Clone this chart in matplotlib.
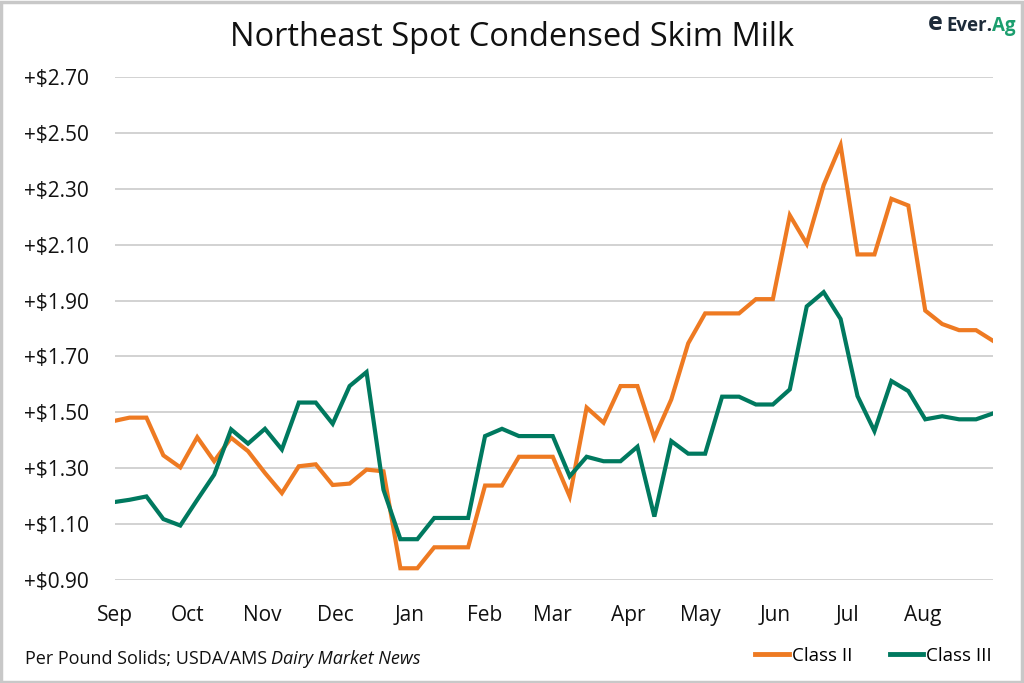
import pandas as pd
import numpy as np
import matplotlib
matplotlib.use("Agg")
from matplotlib import pyplot as plt
import matplotlib.dates as mdates
from matplotlib.patches import Rectangle

# weekly spot premiums ($/lb solids), Sep 2022 - Aug 2023
weeks = pd.date_range("2022-08-31", periods=53, freq="7D")

class_ii = [1.468, 1.481, 1.481, 1.346, 1.303, 1.411, 1.325, 1.409, 1.361, 1.283,
            1.211, 1.307, 1.314, 1.240, 1.245, 1.295, 1.289, 0.942, 0.942, 1.017,
            1.017, 1.017, 1.238, 1.238, 1.341, 1.341, 1.341, 1.199, 1.517, 1.463,
            1.594, 1.594, 1.409, 1.546, 1.747, 1.854, 1.854, 1.854, 1.905, 1.905,
            2.205, 2.103, 2.313, 2.456, 2.065, 2.065, 2.264, 2.240, 1.864, 1.816,
            1.794, 1.794, 1.756]

class_iii = [1.178, 1.187, 1.199, 1.118, 1.095, 1.187, 1.277, 1.439, 1.388, 1.441,
             1.367, 1.535, 1.535, 1.459, 1.594, 1.644, 1.223, 1.046, 1.046, 1.122,
             1.122, 1.122, 1.415, 1.441, 1.415, 1.415, 1.415, 1.271, 1.341, 1.325,
             1.325, 1.377, 1.127, 1.397, 1.352, 1.352, 1.556, 1.556, 1.528, 1.528,
             1.582, 1.879, 1.930, 1.834, 1.558, 1.433, 1.612, 1.576, 1.475, 1.486,
             1.475, 1.475, 1.496]

y_ticks = [0.90, 1.10, 1.30, 1.50, 1.70, 1.90, 2.10, 2.30, 2.50, 2.70]

orange = "#EE7A22"
green = "#00795F"

plt.rcParams['font.family'] = ['Open Sans', 'DejaVu Sans']

fig = plt.figure(figsize=(10.24, 6.83), dpi=100)
ax = fig.add_axes([0.1123, 0.1508, 0.8574, 0.7365])

ax.plot(weeks, class_ii, color=orange, lw=3, label="Class II", solid_joinstyle="miter")
ax.plot(weeks, class_iii, color=green, lw=3, label="Class III", solid_joinstyle="miter")

ax.set_ylim(0.90, 2.70)
ax.set_yticks(y_ticks)
ax.set_yticklabels([f"+${v:.2f}" for v in y_ticks])
ax.set_xlim(pd.Timestamp("2022-09-01"), weeks[-1])
ax.xaxis.set_major_locator(mdates.MonthLocator())
ax.xaxis.set_major_formatter(mdates.DateFormatter("%b"))

ax.grid(axis="y", color="#CFCFCF", lw=1.3)
ax.set_axisbelow(True)
for s in ax.spines.values():
    s.set_visible(False)
ax.tick_params(axis="both", length=0, labelsize=15, colors="#111111")
ax.tick_params(axis="y", pad=19)
ax.tick_params(axis="x", pad=18)

fig.text(0.5, 0.945, "Northeast Spot Condensed Skim Milk", ha="center", va="center",
         fontsize=23.5, color="#111111")

# footer: plain part then italic part right after it
foot = fig.text(0.024, 0.035, "Per Pound Solids; USDA/AMS ", fontsize=13,
                color="#111111", va="center")
fig.canvas.draw()
bb = foot.get_window_extent().transformed(fig.transFigure.inverted())
fig.text(bb.x1, 0.035, "Dairy Market News", fontsize=13, color="#111111",
         va="center", style="italic")

leg = fig.legend(loc="center right", bbox_to_anchor=(0.985, 0.04), ncol=2, frameon=False,
                 fontsize=13.5, handlelength=1.8, handletextpad=0.15, columnspacing=2.0)
for line in leg.get_lines():
    line.set_linewidth(3.5)

# logo
fig.text(0.9245, 0.962, "Ever.", ha="left", va="center", fontsize=13.5,
         fontweight="bold", color="#1D2B3A")
fig.text(0.9245 + 0.0445, 0.962, "Ag", ha="left", va="center", fontsize=13.5,
         fontweight="bold", color="#1B9E6E")
fig.text(0.921, 0.965, "e", ha="right", va="center", fontsize=18,
         fontweight="bold", color="#1D2B3A")

fig.patches.append(Rectangle((0.001, 0.002), 0.997, 0.995, transform=fig.transFigure,
                             fill=False, edgecolor="#C8C8C8", lw=2.5))

fig.savefig("out.png", dpi=100, facecolor="white")
